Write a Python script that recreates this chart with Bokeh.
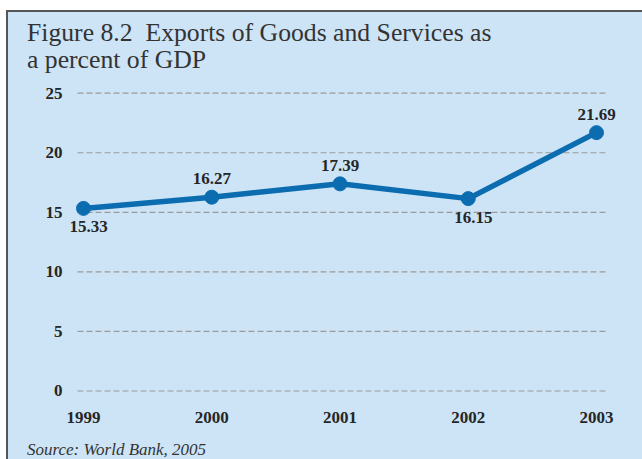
from bokeh.plotting import figure
from bokeh.layouts import column
from bokeh.models import Range1d, FixedTicker, Div, ColumnDataSource, CDSView, IndexFilter
from bokeh.core.properties import value
from bokeh.embed import file_html
from bokeh.resources import INLINE

years = [1999, 2000, 2001, 2002, 2003]
exports_pct = [15.33, 16.27, 17.39, 16.15, 21.69]
value_labels = ["15.33", "16.27", "17.39", "16.15", "21.69"]
y_ticks = [0, 5, 10, 15, 20, 25]
title_lines = ["Figure 8.2  Exports of Goods and Services as", "a percent of GDP"]
source_note = "Source: World Bank, 2005"

BG = "#cde4f6"
TXT = "#262626"
TITLE_TXT = "#333333"
LINE = "#0b6db0"
FONT = "Liberation Serif"
PX_PER_YEAR = 128.25
PX_PER_UNIT = 11.91
W = 634

# ---- title block
title_html = ('<div style="padding:7px 0 0 19px; font-family:\'Liberation Serif\', serif; '
              'font-size:25.7px; line-height:27px; color:%s; white-space:pre; margin:0;">%s</div>'
              % (TITLE_TXT, "\n".join(title_lines)))
top = Div(text=title_html, width=W, height=64, margin=0,
          styles={"background-color": BG, "overflow": "visible"})

# ---- chart
src = ColumnDataSource(dict(x=years, y=exports_pct, lab=value_labels))

fig = figure(width=W, height=359, output_backend="svg", toolbar_location=None,
             x_range=Range1d(years[0] - 17 / PX_PER_YEAR, years[-1] + 36 / PX_PER_YEAR),
             y_range=Range1d(-7.5 / PX_PER_UNIT, 25 + 7.7 / PX_PER_UNIT),
             min_border_left=58, min_border_right=10, min_border_top=9, min_border_bottom=37)
fig.background_fill_color = BG
fig.border_fill_color = BG
fig.outline_line_color = None
fig.grid.grid_line_color = None

# dashed horizontal guide lines (span only the plotted years)
gx0 = years[0] - 6 / PX_PER_YEAR
gx1 = years[-1] + 9 / PX_PER_YEAR
fig.segment(x0=[gx0] * len(y_ticks), x1=[gx1] * len(y_ticks), y0=y_ticks, y1=y_ticks,
            line_color="#9a9a9a", line_dash="6 3", line_width=1.2)

for ax in (fig.xaxis[0], fig.yaxis[0]):
    ax.axis_line_color = None
    ax.major_tick_line_color = None
    ax.minor_tick_line_color = None
    ax.major_label_text_font = FONT
    ax.major_label_text_font_style = "bold"
    ax.major_label_text_font_size = "17px"
    ax.major_label_text_color = TXT
fig.xaxis.ticker = FixedTicker(ticks=years)
fig.yaxis.ticker = FixedTicker(ticks=y_ticks)
fig.yaxis.major_tick_out = 0
fig.yaxis.major_tick_in = 0
fig.yaxis.major_label_standoff = 4
fig.xaxis.major_label_standoff = 7

fig.line("x", "y", source=src, line_color=LINE, line_width=5.5)
fig.scatter("x", "y", source=src, size=14, fill_color=LINE, line_color=LINE)

above = CDSView(filter=IndexFilter([1, 2, 4]))
below = CDSView(filter=IndexFilter([0, 3]))
fig.text("x", "y", text="lab", source=src, view=above, text_align="center",
         text_baseline="bottom", y_offset=-13, text_font=value(FONT),
         text_font_style="bold", text_font_size="17px", text_color=TXT)
fig.text("x", "y", text="lab", source=src, view=below, text_align="center",
         text_baseline="top", y_offset=13, x_offset=5, text_font=value(FONT),
         text_font_style="bold", text_font_size="17px", text_color=TXT)

# ---- source note
source_html = ('<div style="padding:6px 0 0 19px; font-family:\'Liberation Serif\', serif; '
               'font-style:italic; font-size:17px; line-height:18px; color:%s; '
               'white-space:pre; margin:0;">%s</div>' % (TITLE_TXT, source_note))
bottom = Div(text=source_html, width=W, height=24, margin=0,
             styles={"background-color": BG, "overflow": "visible"})

p = column(top, fig, bottom, spacing=0)
p.styles = {"margin-left": "6px", "margin-top": "10px", "background-color": BG,
            "border-left": "2px solid #555", "border-top": "2px solid #555"}

open("out.html", "w").write(file_html(p, INLINE))
